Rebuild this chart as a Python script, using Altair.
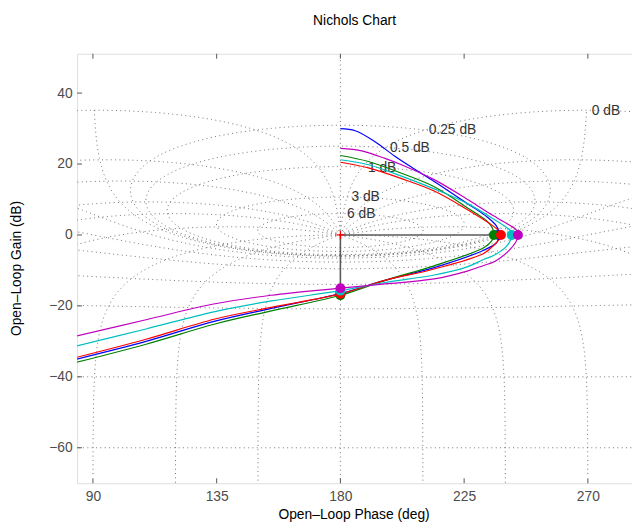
import numpy as np
import pandas as pd
import altair as alt

FONT = "Liberation Sans"

# ---------------- open-loop responses (phase deg, gain dB) ----------------
blue_phase = [84.1, 109.3, 134.4, 154.9, 180.0, 196.2, 214.1, 232.1, 236.9, 237.6, 237.5, 236.6, 233.5, 226.1, 214.1, 206.9, 199.8, 192.6, 185.4, 180.0]
blue_gain = [-35.0, -30.0, -24.3, -20.7, -16.5, -12.8, -9.2, -4.3, -2.1, 0.0, 1.3, 2.7, 5.0, 8.9, 15.1, 18.6, 22.2, 26.3, 29.4, 30.0]

magenta_phase = [84.1, 109.3, 134.4, 154.8, 180.0, 196.2, 214.1, 226.1, 232.1, 236.1, 241.3, 243.8, 244.6, 244.6, 243.5, 241.7, 235.7, 226.1, 214.1, 202.2, 196.2, 187.8, 180.0]
magenta_gain = [-28.5, -23.9, -19.4, -17.0, -15.0, -13.8, -12.4, -10.2, -8.6, -7.5, -4.4, -2.0, 0.0, 0.8, 1.8, 2.7, 5.4, 10.1, 15.6, 19.8, 21.6, 23.7, 24.4]

cyan_phase = [84.1, 109.3, 134.4, 154.9, 180.0, 196.2, 214.1, 226.1, 232.1, 235.7, 240.3, 242.0, 242.3, 242.1, 240.3, 235.7, 226.1, 214.1, 202.2, 190.2, 180.0]
cyan_gain = [-31.3, -26.5, -21.6, -18.6, -15.7, -13.4, -11.3, -9.0, -6.9, -5.8, -3.3, -1.2, 0.0, 1.0, 2.2, 4.5, 8.9, 13.0, 16.6, 19.8, 21.2]

red_phase = [84.1, 109.3, 134.4, 154.9, 180.0, 196.2, 214.1, 232.1, 236.3, 238.0, 238.4, 237.6, 234.5, 226.1, 214.1, 202.2, 190.2, 180.0]
red_gain = [-34.5, -29.4, -23.7, -20.4, -16.6, -12.8, -9.6, -5.2, -2.5, -1.0, 0.0, 1.2, 3.1, 7.2, 12.4, 15.9, 18.9, 20.5]

green_phase = [84.1, 109.3, 134.4, 154.9, 180.0, 196.2, 214.1, 232.1, 235.1, 235.8, 235.6, 233.9, 226.1, 214.1, 202.2, 190.2, 180.0]
green_gain = [-35.9, -30.8, -25.1, -21.4, -17.0, -12.8, -8.7, -3.6, -1.6, 0.0, 1.4, 3.5, 7.7, 13.6, 17.4, 20.7, 22.4]

SERIES = ["blue", "green", "red", "cyan", "magenta"]
COLORS = ["#0000ff", "#008000", "#ff0000", "#00bfbf", "#bf00bf"]
CURVES = {
    "blue": (blue_phase, blue_gain),
    "green": (green_phase, green_gain),
    "red": (red_phase, red_gain),
    "cyan": (cyan_phase, cyan_gain),
    "magenta": (magenta_phase, magenta_gain),
}

# gain-crossover (0 dB) phases and phase-crossover (180 deg) gains, per series
gc_phase = [237.5, 235.8, 238.4, 242.3, 244.6]
gc_gain = [0.0, 0.0, 0.0, 0.0, 0.0]
pc_phase = [180.0, 180.0, 180.0, 180.0, 180.0]
pc_gain = [-16.5, -17.0, -16.6, -15.7, -15.0]

# stability-margin guide lines and critical point
margin_phase = [180.0, 180.0]
margin_phase2 = [235.8, 180.0]
margin_gain = [0.0, 0.0]
margin_gain2 = [0.0, -15.0]
critical_phase = [180.0]
critical_gain = [0.0]

# Nichols grid: closed-loop gain levels (dB) and closed-loop phase levels (deg)
M_LEVELS_DB = [6, 3, 1, 0.5, 0.25, 0, -1, -3, -6, -12, -20, -40, -60]
N_LEVELS_DEG = [1, 5, 10, 20, 30, 50, 90, 120, 150, 180, 210, 240, 270, 310, 330, 340, 350, 355, 359]
GRID_CAP_DB = 35.2

grid_label_text = ["0 dB", "0.25 dB", "0.5 dB", "1 dB", "3 dB", "6 dB"]
grid_label_phase = [271.4, 212.1, 198.0, 190.0, 184.0, 182.4]
grid_label_gain = [34.9, 29.5, 24.6, 19.0, 10.75, 5.85]

X_TICKS = [90, 135, 180, 225, 270]
Y_TICKS = [-60, -40, -20, 0, 20, 40]
X_DOMAIN = [84.25, 286.05]
Y_DOMAIN = [-70.0, 51.1]

W, H = 562, 435

# ---------------- Nichols grid contours ----------------
def simplify(ph, gd):
    keep_p, keep_g = [ph[0]], [gd[0]]
    for p, g in zip(ph[1:], gd[1:]):
        dx = (p - keep_p[-1]) * 2.78
        dy = (g - keep_g[-1]) * 3.59
        if dx * dx + dy * dy >= 2.0:
            keep_p.append(p)
            keep_g.append(g)
    if keep_p[-1] != ph[-1]:
        keep_p.append(ph[-1])
        keep_g.append(gd[-1])
    return keep_p, keep_g

grid_rows = []
cid = 0

def add_contour(ph, gd):
    global cid
    ph = np.asarray(ph, float)
    gd = np.asarray(gd, float)
    ok = np.isfinite(gd) & (ph > 80) & (ph < 290) & (gd > -76)
    ph, gd = ph[ok], gd[ok]
    if len(ph) < 2:
        return
    ph, gd = simplify(list(ph), list(gd))
    for i, (p, g) in enumerate(zip(ph, gd)):
        grid_rows.append({"phase": round(float(p), 3), "gain": round(float(g), 3), "cid": cid, "idx": i})
    cid += 1

for mdb in M_LEVELS_DB:
    if mdb == 0:
        cap = 10 ** (GRID_CAP_DB / 20)
        lim = np.degrees(np.arccos(1 / (2 * cap)))
        th = np.linspace(180 - lim, 180 + lim, 2000)
        g = -1 / (2 * np.cos(np.radians(th)))
        add_contour(th, 20 * np.log10(g))
    else:
        M = 10 ** (mdb / 20)
        c = M ** 2 / (1 - M ** 2)
        R = abs(M / (1 - M ** 2))
        t = np.linspace(1e-4, 2 * np.pi - 1e-4, 4000)
        L = c + R * np.exp(1j * t)
        ph = np.degrees(np.angle(L)) % 360
        gd = 20 * np.log10(np.abs(L))
        add_contour(ph, gd)

for phi in N_LEVELS_DEG:
    if phi == 180:
        add_contour([180, 180], [0, -75])
        continue
    th = np.linspace(180, phi, 4000)[:-1]
    g = np.sin(np.radians(th - phi)) / np.sin(np.radians(phi))
    add_contour(th, 20 * np.log10(g))

# closed-loop phase 0 deg: critical point upward
add_contour([180, 180], [0, 60])

grid_df = pd.DataFrame(grid_rows)

# ---------------- encodings ----------------
x_axis = alt.Axis(values=X_TICKS, title="Open\u2013Loop Phase (deg)", grid=False, domain=False,
                  ticks=False, tickSize=0, labelPadding=7, labelFont=FONT, labelFontSize=14,
                  labelColor="#4d4d4d", labelFlush=False, titleFont=FONT, titleFontSize=14,
                  titleFontWeight="normal", titleColor="#000000", titleX=280, titleY=36,
                  titleBaseline="alphabetic", titleAlign="center")
y_axis = alt.Axis(values=Y_TICKS, title="Open\u2013Loop Gain (dB)", grid=False, domain=False,
                  ticks=False, tickSize=0, labelPadding=5, labelFont=FONT, labelFontSize=14,
                  labelColor="#4d4d4d", labelFlush=False, titleFont=FONT, titleFontSize=14,
                  titleFontWeight="normal", titleColor="#000000", titleX=-57, titleY=217,
                  titleAngle=270, titleBaseline="alphabetic", titleAlign="center")
xs = alt.Scale(domain=X_DOMAIN, nice=False, zero=False)
ys = alt.Scale(domain=Y_DOMAIN, nice=False, zero=False)

def X(field="phase"):
    return alt.X(f"{field}:Q", scale=xs, axis=x_axis)

def Y(field="gain"):
    return alt.Y(f"{field}:Q", scale=ys, axis=y_axis)

layers = []

# grid
layers.append(
    alt.Chart(grid_df).mark_line(color="#707070", strokeWidth=1, strokeDash=[1, 3.4], clip=True)
    .encode(x=X(), y=Y(), detail="cid:N", order="idx:Q")
)

# grid labels
lab_df = pd.DataFrame({"phase": grid_label_phase, "gain": grid_label_gain, "label": grid_label_text})
layers.append(
    alt.Chart(lab_df).mark_text(align="left", baseline="middle", font=FONT, fontSize=14, color="#333333")
    .encode(x=X(), y=Y(), text="label:N")
)

# margin guide lines
mdf = pd.DataFrame({"phase": margin_phase, "phase2": margin_phase2, "gain": margin_gain, "gain2": margin_gain2})
layers.append(
    alt.Chart(mdf).mark_rule(color="#5a5a5a", strokeWidth=1.6)
    .encode(x=X(), x2="phase2:Q", y=Y(), y2="gain2:Q")
)

# critical point
cdf = pd.DataFrame({"phase": critical_phase, "gain": critical_gain})
layers.append(
    alt.Chart(cdf).mark_point(shape="M-1,0L1,0M0,-1L0,1", size=64, filled=False, color="#ff0000", strokeWidth=1.3, opacity=1)
    .encode(x=X(), y=Y())
)

# curves
for name, col in zip(SERIES, COLORS):
    ph, gn = CURVES[name]
    df = pd.DataFrame({"phase": ph, "gain": gn, "idx": list(range(len(ph)))})
    layers.append(
        alt.Chart(df).mark_line(color=col, strokeWidth=1.2, interpolate="catmull-rom", clip=True)
        .encode(x=X(), y=Y(), order="idx:Q")
    )

# crossover markers
for i, (name, col) in enumerate(zip(SERIES, COLORS)):
    df = pd.DataFrame({"phase": [gc_phase[i], pc_phase[i]], "gain": [gc_gain[i], pc_gain[i]]})
    layers.append(
        alt.Chart(df).mark_circle(color=col, size=100, opacity=1)
        .encode(x=X(), y=Y())
    )

# inward ticks
xt = pd.DataFrame({"phase": X_TICKS})
yt = pd.DataFrame({"gain": Y_TICKS})
layers.append(alt.Chart(xt).mark_rule(color="#555555", strokeWidth=1).encode(x=X(), y=alt.value(0), y2=alt.value(5)))
layers.append(alt.Chart(xt).mark_rule(color="#555555", strokeWidth=1).encode(x=X(), y=alt.value(H), y2=alt.value(H - 5)))
layers.append(alt.Chart(yt).mark_rule(color="#555555", strokeWidth=1).encode(y=Y(), x=alt.value(0), x2=alt.value(5)))

chart = (
    alt.layer(*layers)
    .properties(
        width=W,
        height=H,
        autosize=alt.AutoSizeParams(type="none"),
        padding={"left": 70, "top": 43, "right": 0, "bottom": 40},
        title=alt.TitleParams("Nichols Chart", font=FONT, fontSize=14, fontWeight="normal",
                              color="#000000", anchor="middle", offset=15, baseline="alphabetic"),
    )
    .configure_view(stroke="#555555", strokeWidth=1)
    .configure(background="white")
)

chart.save("out.html", embed_options={"renderer": "svg", "actions": False})
